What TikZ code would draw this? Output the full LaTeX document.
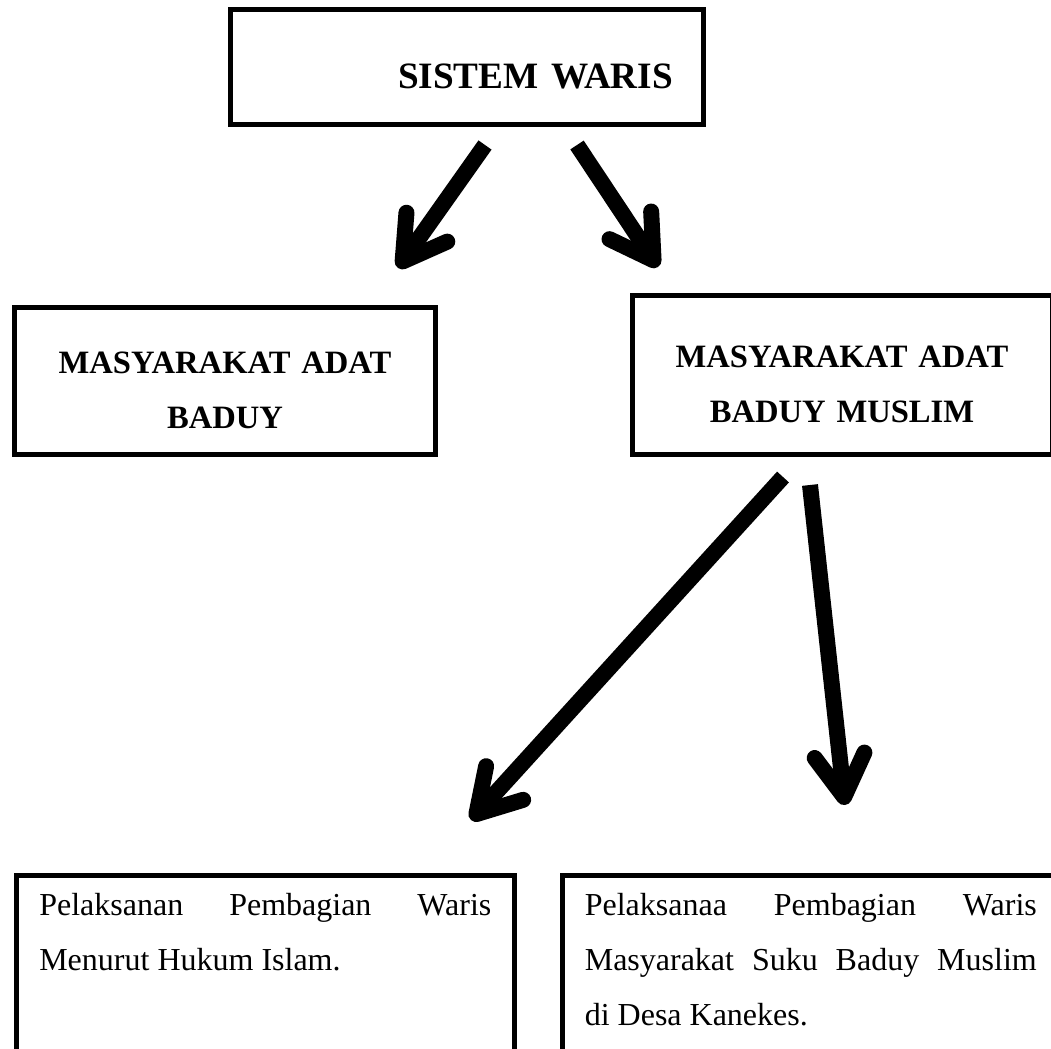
\documentclass[tikz,border=0pt]{standalone}
\usepackage{fontspec}
\setmainfont{Liberation Serif}
\newfontfamily\titlefont{Liberation Serif}[UprightFont=* Bold, WordSpace=0.64]
\usepackage{tikz}
\usetikzlibrary{calc,positioning,arrows.meta}

\begin{document}
\begin{tikzpicture}[x=0.5pt, y=-0.5pt,
    box/.style={draw, line width=2.5pt, inner ysep=0pt},
    title/.style={font=\titlefont\fontsize{16.3pt}{27.5pt}\selectfont, text width=200pt, align=center, text height=0pt, text depth=8pt},
    body/.style={font=\fontsize{16pt}{27.5pt}\selectfont, text width=226pt, inner xsep=11.4pt, align=justify, text height=20.25pt, text depth=120pt, anchor=north west},
    flow/.style={line width=8pt, -{Straight Barb[length=21pt, width=25pt, line cap=round, line join=round]}}]
    \useasboundingbox (0,0) rectangle (1051,1049);
    \clip (0,0) rectangle (1051,1049);

    \node [box, minimum width=236.5pt, minimum height=57.5pt, text width=206pt, inner xsep=15.25pt, align=right, text height=21pt, text depth=0pt, font=\titlefont\fontsize{18.6pt}{22pt}\selectfont] (sistem) at (467,67) {SISTEM WARIS};

    \node [box, title, minimum width=210.5pt, minimum height=73.5pt] (adat) at (225,381) {MASYARAKAT ADAT\\BADUY};
    \node [box, title, minimum width=210pt, minimum height=79.5pt] (muslim) at (842,375) {MASYARAKAT ADAT\\BADUY MUSLIM};

    \node [box, body] (islam) at (14,872.5) {Pelaksanan Pembagian Waris\linebreak Menurut Hukum Islam.};
    \node [box, body] (kanekes) at (559.5,872.5) {Pelaksanaa Pembagian Waris\linebreak Masyarakat Suku Baduy Muslim\linebreak di Desa Kanekes.};

    \coordinate (sistem_l) at (485,145);
    \coordinate (sistem_r) at (577,145);
    \coordinate (adat_in) at (398,268);
    \coordinate (muslim_in) at (658,267);
    \coordinate (muslim_l) at (783,477);
    \coordinate (muslim_r) at (810,485);
    \coordinate (islam_in) at (471,820);
    \coordinate (kanekes_in) at (845,805);

    \draw[flow] (sistem_l) -- (adat_in);
    \draw[flow] (sistem_r) -- (muslim_in);
    \draw[flow] (muslim_l) -- (islam_in);
    \draw[flow] (muslim_r) -- (kanekes_in);
\end{tikzpicture}
\end{document}
